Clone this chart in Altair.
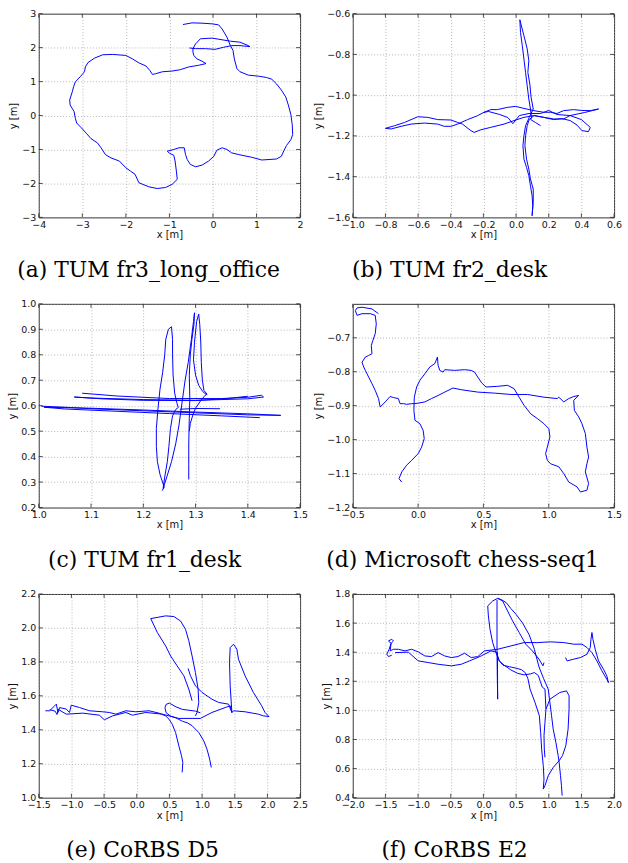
import altair as alt
import pandas as pd

W, H = 263, 205

# ---------------- panel (a) TUM fr3_long_office ----------------
a_segments = [[
    (-0.69, 2.68), (-0.48, 2.73), (-0.25, 2.72), (-0.02, 2.70), (0.13, 2.67), (0.21, 2.55), (0.32, 2.31),
    (0.40, 2.06), (0.46, 1.92), (0.49, 1.67), (0.55, 1.38), (0.62, 1.29), (0.81, 1.19), (1.04, 1.16),
    (1.23, 1.12), (1.35, 1.07), (1.46, 0.93), (1.57, 0.75), (1.67, 0.55), (1.73, 0.31), (1.79, 0.02),
    (1.82, -0.27), (1.83, -0.56), (1.79, -0.71), (1.69, -0.88), (1.63, -1.03), (1.57, -1.20), (1.46, -1.28),
    (1.12, -1.31), (0.89, -1.23), (0.59, -1.15), (0.43, -1.10), (0.32, -1.00), (0.21, -0.95), (0.09, -1.02),
    (0.02, -1.20), (-0.10, -1.34), (-0.25, -1.46), (-0.40, -1.51), (-0.52, -1.44), (-0.59, -1.30),
    (-0.63, -1.15), (-0.66, -0.95), (-0.78, -0.95), (-0.90, -1.00), (-1.05, -1.05), (-1.00, -1.11),
    (-0.90, -1.17), (-0.87, -1.34), (-0.84, -1.64), (-0.82, -1.88), (-0.94, -2.03), (-1.09, -2.12),
    (-1.28, -2.15), (-1.47, -2.10), (-1.70, -1.98), (-1.79, -1.73), (-1.89, -1.64), (-2.00, -1.54),
    (-2.15, -1.34), (-2.34, -1.25), (-2.47, -1.15), (-2.57, -0.95), (-2.65, -0.81), (-2.80, -0.68),
    (-2.91, -0.52), (-3.03, -0.35), (-3.13, -0.22), (-3.16, -0.08), (-3.19, 0.12), (-3.28, 0.31),
    (-3.29, 0.46), (-3.23, 0.70), (-3.20, 0.85), (-3.16, 0.99), (-3.05, 1.14), (-2.95, 1.29), (-2.93, 1.43),
    (-2.87, 1.56), (-2.72, 1.69), (-2.53, 1.79), (-2.30, 1.80), (-2.00, 1.77), (-1.85, 1.67), (-1.70, 1.55),
    (-1.54, 1.46), (-1.45, 1.33), (-1.39, 1.21), (-1.32, 1.23), (-1.16, 1.29), (-0.94, 1.31), (-0.75, 1.35),
    (-0.56, 1.43), (-0.33, 1.48), (-0.16, 1.53), (-0.25, 1.60), (-0.37, 1.67), (-0.44, 1.77), (-0.46, 1.87),
    (-0.46, 1.97), (-0.40, 2.11), (-0.29, 2.26), (-0.02, 2.28), (0.40, 2.19), (0.62, 2.16), (0.81, 2.06),
    (0.85, 2.03), (0.62, 2.06), (0.43, 2.06), (0.24, 2.01), (0.05, 1.95), (-0.17, 1.97), (-0.40, 1.97),
    (-0.54, 1.99),
]]
a_xticks = [-4, -3, -2, -1, 0, 1, 2]
a_yticks = [-3, -2, -1, 0, 1, 2, 3]

# ---------------- panel (b) TUM fr2_desk ----------------
b_segments = [
    [(0.15, -1.15), (0.12, -1.135), (0.09, -1.12), (0.094, -1.109), (0.088, -1.068), (0.078, -1.019),
     (0.068, -0.954), (0.058, -0.888), (0.048, -0.823), (0.038, -0.757), (0.027, -0.692), (0.023, -0.63),
     (0.048, -0.708), (0.068, -0.773), (0.078, -0.831), (0.072, -0.888), (0.084, -0.945), (0.092, -1.011),
     (0.105, -1.068), (0.08, -1.11), (0.058, -1.15), (0.048, -1.199), (0.042, -1.248), (0.048, -1.314),
     (0.064, -1.355), (0.078, -1.395), (0.088, -1.445), (0.098, -1.494), (0.102, -1.543), (0.098, -1.592),
     (0.105, -1.526), (0.105, -1.461), (0.088, -1.412), (0.078, -1.363), (0.064, -1.314), (0.054, -1.248),
     (0.058, -1.199), (0.068, -1.15), (0.08, -1.12)],
    [(0.08, -1.12), (0.11, -1.10), (0.17, -1.109), (0.231, -1.117), (0.291, -1.117), (0.33, -1.10),
     (0.373, -1.093), (0.42, -1.085), (0.47, -1.075), (0.505, -1.068), (0.454, -1.076), (0.40, -1.075),
     (0.352, -1.071), (0.291, -1.076), (0.25, -1.09), (0.21, -1.084), (0.17, -1.084), (0.109, -1.076),
     (0.048, -1.065), (-0.003, -1.055), (-0.054, -1.06), (-0.115, -1.071), (-0.155, -1.071), (-0.196, -1.084),
     (-0.237, -1.101), (-0.297, -1.12), (-0.358, -1.142), (-0.399, -1.153), (-0.44, -1.153), (-0.48, -1.142),
     (-0.561, -1.137), (-0.643, -1.142), (-0.704, -1.153), (-0.765, -1.166), (-0.80, -1.163), (-0.744, -1.150),
     (-0.683, -1.134), (-0.602, -1.106), (-0.541, -1.109), (-0.48, -1.12), (-0.399, -1.122), (-0.358, -1.134),
     (-0.328, -1.142), (-0.30, -1.16), (-0.277, -1.174), (-0.257, -1.183), (-0.216, -1.170), (-0.155, -1.158),
     (-0.074, -1.142), (-0.013, -1.125), (0.048, -1.109), (0.109, -1.10), (0.17, -1.109), (0.23, -1.12),
     (0.28, -1.115), (0.332, -1.125), (0.373, -1.147), (0.403, -1.174), (0.443, -1.179), (0.454, -1.158),
     (0.40, -1.12), (0.33, -1.10), (0.25, -1.095), (0.20, -1.075), (0.15, -1.09), (0.08, -1.09),
     (0.02, -1.10), (-0.02, -1.14), (-0.05, -1.11), (-0.10, -1.095), (-0.17, -1.08), (-0.20, -1.085)],
]
b_xticks = [-1.0, -0.8, -0.6, -0.4, -0.2, 0.0, 0.2, 0.4, 0.6]
b_yticks = [-1.6, -1.4, -1.2, -1.0, -0.8, -0.6]

# ---------------- panel (c) TUM fr1_desk ----------------
c_segments = [
    [(1.083, 0.649), (1.15, 0.638), (1.25, 0.628), (1.35, 0.628), (1.40, 0.633), (1.426, 0.641), (1.43, 0.634),
     (1.40, 0.627), (1.30, 0.621), (1.20, 0.624), (1.10, 0.63), (1.068, 0.634), (1.12, 0.627), (1.20, 0.621),
     (1.30, 0.62), (1.36, 0.628), (1.40, 0.637)],
    [(1.005, 0.598), (1.05, 0.594), (1.10, 0.588), (1.20, 0.580), (1.30, 0.572), (1.40, 0.564), (1.463, 0.562),
     (1.40, 0.568), (1.30, 0.575), (1.20, 0.583), (1.10, 0.590), (1.01, 0.594), (1.05, 0.587), (1.15, 0.578),
     (1.25, 0.569), (1.35, 0.560), (1.423, 0.553)],
    [(1.27, 0.586), (1.30, 0.589), (1.347, 0.588)],
    [(1.236, 0.266), (1.240, 0.28), (1.232, 0.33), (1.227, 0.38), (1.225, 0.44), (1.225, 0.51), (1.228, 0.586),
     (1.232, 0.665), (1.237, 0.73), (1.241, 0.80), (1.243, 0.86), (1.248, 0.90), (1.254, 0.91), (1.256, 0.86),
     (1.256, 0.80), (1.257, 0.72), (1.26, 0.65), (1.264, 0.612), (1.267, 0.593), (1.262, 0.585), (1.256, 0.56),
     (1.252, 0.51), (1.249, 0.44), (1.246, 0.38), (1.241, 0.32), (1.238, 0.275), (1.245, 0.32), (1.254, 0.38),
     (1.262, 0.45), (1.268, 0.52), (1.274, 0.61), (1.28, 0.70), (1.286, 0.77), (1.292, 0.86), (1.296, 0.93),
     (1.298, 0.965), (1.297, 0.92), (1.293, 0.86), (1.290, 0.80), (1.288, 0.72), (1.289, 0.63), (1.288, 0.55),
     (1.287, 0.45), (1.287, 0.37), (1.287, 0.31)],
    [(1.288, 0.50), (1.29, 0.53), (1.295, 0.565), (1.30, 0.59), (1.31, 0.62), (1.318, 0.64), (1.322, 0.645),
     (1.316, 0.66), (1.313, 0.70), (1.311, 0.77), (1.31, 0.85), (1.308, 0.92), (1.306, 0.96), (1.302, 0.93),
     (1.298, 0.85), (1.296, 0.78), (1.30, 0.72), (1.306, 0.68), (1.314, 0.655), (1.32, 0.645)],
]
c_xticks = [1.0, 1.1, 1.2, 1.3, 1.4, 1.5]
c_yticks = [0.2, 0.3, 0.4, 0.5, 0.6, 0.7, 0.8, 0.9, 1.0]

# ---------------- panel (d) Microsoft chess-seq1 ----------------
d_segments = [[
    (-0.303, -0.629), (-0.353, -0.615), (-0.429, -0.610), (-0.467, -0.612), (-0.480, -0.620), (-0.467, -0.634),
    (-0.429, -0.629), (-0.366, -0.629), (-0.328, -0.634), (-0.320, -0.659), (-0.328, -0.688), (-0.346, -0.708),
    (-0.358, -0.723), (-0.353, -0.747), (-0.378, -0.752), (-0.404, -0.757), (-0.429, -0.772), (-0.416, -0.786),
    (-0.404, -0.796), (-0.378, -0.816), (-0.353, -0.835), (-0.328, -0.855), (-0.303, -0.879), (-0.290, -0.904),
    (-0.252, -0.889), (-0.214, -0.873), (-0.189, -0.876), (-0.151, -0.879), (-0.138, -0.894), (-0.113, -0.894),
    (-0.087, -0.896), (-0.049, -0.894), (-0.024, -0.894), (0.052, -0.889), (0.103, -0.879), (0.153, -0.870),
    (0.204, -0.860), (0.267, -0.848), (0.330, -0.853), (0.457, -0.860), (0.584, -0.863), (0.710, -0.867),
    (0.837, -0.867), (0.963, -0.875), (1.065, -0.879), (1.077, -0.875), (1.115, -0.889), (1.153, -0.879),
    (1.191, -0.873), (1.229, -0.870), (1.191, -0.884), (1.196, -0.914), (1.229, -0.933), (1.254, -0.953),
    (1.280, -0.982), (1.292, -1.022), (1.305, -1.051), (1.292, -1.071), (1.280, -1.095), (1.305, -1.129),
    (1.292, -1.149), (1.242, -1.154), (1.216, -1.139), (1.153, -1.125), (1.115, -1.100), (1.077, -1.080),
    (1.014, -1.071), (0.989, -1.061), (0.976, -1.041), (0.989, -1.022), (1.009, -0.992), (1.001, -0.968),
    (0.963, -0.953), (0.913, -0.938), (0.862, -0.924), (0.811, -0.899), (0.773, -0.875), (0.735, -0.850),
    (0.685, -0.840), (0.609, -0.843), (0.520, -0.845), (0.487, -0.833), (0.457, -0.816), (0.432, -0.801),
    (0.406, -0.796), (0.356, -0.794), (0.280, -0.796), (0.204, -0.794), (0.191, -0.801), (0.166, -0.796),
    (0.153, -0.781), (0.148, -0.757), (0.128, -0.776), (0.090, -0.786), (0.052, -0.806), (0.014, -0.825),
    (-0.011, -0.845), (-0.029, -0.875), (-0.032, -0.914), (-0.024, -0.943), (0.014, -0.953), (0.039, -0.973),
    (0.047, -0.997), (0.027, -1.022), (0.001, -1.041), (-0.049, -1.061), (-0.087, -1.075), (-0.125, -1.095),
    (-0.146, -1.115), (-0.125, -1.125),
]]
d_xticks = [-0.5, 0.0, 0.5, 1.0, 1.5]
d_yticks = [-1.2, -1.1, -1.0, -0.9, -0.8, -0.7]

# ---------------- panel (e) CoRBS D5 ----------------
e_segments = [
    [(-1.399, 1.512), (-1.333, 1.512), (-1.257, 1.541), (-1.231, 1.551), (-1.206, 1.502), (-1.181, 1.531),
     (-1.079, 1.522), (-1.029, 1.502), (-1.003, 1.545), (-0.876, 1.531), (-0.724, 1.512), (-0.522, 1.506),
     (-0.420, 1.502), (-0.319, 1.492), (-0.167, 1.512), (-0.015, 1.506), (0.188, 1.512), (0.340, 1.498),
     (0.442, 1.482), (0.492, 1.463), (0.543, 1.433), (0.594, 1.384), (0.644, 1.306), (0.685, 1.247),
     (0.705, 1.208), (0.695, 1.149)],
    [(-1.333, 1.518), (-1.25, 1.51), (-1.22, 1.49), (-1.2, 1.52), (-1.079, 1.492), (-0.826, 1.498),
     (-0.572, 1.486), (-0.496, 1.459), (-0.369, 1.482), (-0.167, 1.502), (-0.065, 1.486), (0.138, 1.502),
     (0.391, 1.492), (0.644, 1.467), (0.847, 1.467), (0.974, 1.467), (1.151, 1.502), (1.354, 1.531),
     (1.430, 1.541), (1.456, 1.502), (1.481, 1.512), (1.658, 1.506), (1.861, 1.492), (1.937, 1.482),
     (2.024, 1.478), (1.963, 1.502), (1.912, 1.541), (1.785, 1.620), (1.658, 1.718), (1.557, 1.816),
     (1.532, 1.875), (1.481, 1.904), (1.430, 1.884), (1.420, 1.796), (1.430, 1.659), (1.456, 1.502),
     (1.405, 1.551), (1.253, 1.561), (1.151, 1.580), (0.999, 1.620), (0.898, 1.659), (0.822, 1.718),
     (0.786, 1.761)],
    [(0.898, 1.482), (0.923, 1.502), (0.949, 1.561), (0.939, 1.639), (0.898, 1.737), (0.847, 1.835),
     (0.797, 1.924), (0.746, 1.992), (0.670, 2.041), (0.568, 2.067), (0.442, 2.071), (0.214, 2.055),
     (0.315, 1.973), (0.442, 1.894), (0.518, 1.835), (0.619, 1.776), (0.721, 1.718), (0.797, 1.639),
     (0.847, 1.571)],
    [(0.974, 1.50), (0.9, 1.51), (0.8, 1.515), (0.70, 1.52), (0.60, 1.535), (0.50, 1.557), (0.45, 1.55),
     (0.432, 1.53), (0.45, 1.50), (0.52, 1.48), (0.60, 1.47), (0.70, 1.45), (0.78, 1.44), (0.847, 1.424),
     (0.949, 1.384), (1.025, 1.335), (1.075, 1.286), (1.116, 1.227), (1.141, 1.178)],
]
e_xticks = [-1.5, -1.0, -0.5, 0.0, 0.5, 1.0, 1.5, 2.0, 2.5]
e_yticks = [1.0, 1.2, 1.4, 1.6, 1.8, 2.0, 2.2]

# ---------------- panel (f) CoRBS E2 ----------------
f_segments = [
    [(-1.403, 1.379), (-1.453, 1.370), (-1.478, 1.386), (-1.443, 1.420), (-1.413, 1.461), (-1.453, 1.477),
     (-1.403, 1.489), (-1.377, 1.477), (-1.413, 1.461), (-1.428, 1.409), (-1.377, 1.420), (-1.301, 1.420),
     (-1.2, 1.409), (-1.099, 1.420), (-0.997, 1.402), (-0.896, 1.374), (-0.795, 1.370), (-0.694, 1.397),
     (-0.592, 1.374), (-0.491, 1.363), (-0.390, 1.370), (-0.289, 1.393), (-0.187, 1.363), (-0.086, 1.370),
     (0.015, 1.409), (0.218, 1.420), (0.420, 1.443), (0.623, 1.466), (0.825, 1.466), (1.028, 1.471),
     (1.230, 1.466), (1.382, 1.455), (1.509, 1.455), (1.585, 1.432), (1.661, 1.397), (1.737, 1.340),
     (1.813, 1.272), (1.889, 1.214), (1.914, 1.191), (1.889, 1.237), (1.838, 1.283), (1.762, 1.340),
     (1.711, 1.420), (1.676, 1.489), (1.661, 1.535), (1.646, 1.489), (1.635, 1.432), (1.585, 1.386),
     (1.484, 1.363), (1.382, 1.352), (1.281, 1.340), (1.256, 1.363)],
    [(-1.352, 1.397), (-1.15, 1.40), (-0.997, 1.340), (-0.846, 1.329), (-0.694, 1.317), (-0.491, 1.306),
     (-0.339, 1.317), (-0.187, 1.345), (-0.035, 1.374), (0.116, 1.409), (0.2, 1.40), (0.243, 1.340),
     (0.319, 1.310), (0.420, 1.278), (0.522, 1.255), (0.623, 1.244), (0.724, 1.251), (0.78, 1.26),
     (0.84, 1.24), (0.87, 1.20), (0.90, 1.16), (0.942, 1.146), (0.957, 1.008), (0.942, 0.917),
     (0.927, 0.825), (0.932, 0.734), (0.942, 0.677)],
    [(0.927, 1.329), (0.911, 1.306), (0.851, 1.352), (0.749, 1.409), (0.648, 1.455), (0.547, 1.535),
     (0.446, 1.615), (0.370, 1.683), (0.294, 1.752), (0.218, 1.770), (0.142, 1.752), (0.066, 1.718),
     (0.076, 1.649), (0.101, 1.557), (0.142, 1.466), (0.192, 1.397), (0.243, 1.340), (0.30, 1.31),
     (0.40, 1.30), (0.50, 1.29), (0.58, 1.28), (0.64, 1.26), (0.68, 1.22), (0.714, 1.146), (0.790, 1.054),
     (0.856, 0.963), (0.876, 0.848), (0.891, 0.734), (0.916, 0.620), (0.927, 0.528), (0.916, 0.459),
     (0.942, 0.482), (0.992, 0.551), (1.068, 0.608), (1.159, 0.654), (1.210, 0.689), (1.261, 0.757),
     (1.296, 0.871), (1.311, 1.008), (1.311, 1.100), (1.271, 1.134), (1.170, 1.123), (1.018, 1.077),
     (0.957, 1.008)],
    [(0.208, 1.76), (0.208, 1.60), (0.208, 1.443), (0.212, 1.25), (0.218, 1.077), (0.216, 1.25), (0.214, 1.40)],
    [(0.22, 1.77), (0.28, 1.76), (0.35, 1.74), (0.42, 1.70), (0.50, 1.66), (0.60, 1.60), (0.70, 1.52),
     (0.78, 1.42), (0.85, 1.30), (0.92, 1.22), (0.992, 1.146), (1.018, 1.054), (1.043, 0.963), (1.068, 0.871),
     (1.109, 0.780), (1.144, 0.689), (1.159, 0.643), (1.180, 0.551), (1.195, 0.482), (1.205, 0.414)],
]
f_xticks = [-2.0, -1.5, -1.0, -0.5, 0.0, 0.5, 1.0, 1.5, 2.0]
f_yticks = [0.4, 0.6, 0.8, 1.0, 1.2, 1.4, 1.6, 1.8]

captions = ["(a) TUM fr3_long_office", "(b) TUM fr2_desk", "(c) TUM fr1_desk",
            "(d) Microsoft chess-seq1", "(e) CoRBS D5", "(f) CoRBS E2"]

MINUS = "replace(datum.label, '-', '\u2212')"
TICK = 4


def make_df(segs):
    rows = []
    for s, seg in enumerate(segs):
        for i, (x, y) in enumerate(seg):
            rows.append({"x": x, "y": y, "seg": s, "i": i})
    return pd.DataFrame(rows)


def axis(values, fmt, title, x):
    return alt.Axis(values=values, format=fmt, title=title, labelExpr=MINUS,
                    labelOverlap=False, labelFlush=False, labelBound=False,
                    labelPadding=2 if x else 3, titlePadding=1 if x else 3,
                    grid=True, gridColor="#999", gridDash=[1, 2], gridWidth=0.7,
                    domain=False, ticks=False)


def panel(segs, xdom, ydom, xticks, yticks, xfmt, yfmt, caption, dx):
    df = make_df(segs)
    xs = alt.Scale(domain=xdom, nice=False, zero=False)
    ys = alt.Scale(domain=ydom, nice=False, zero=False)
    xax = axis(xticks, xfmt, "x [m]", True)
    yax = axis(yticks, yfmt, "y [m]", False)
    line = alt.Chart(df).mark_line(color="#0000ff", strokeWidth=1, clip=True).encode(
        x=alt.X("x:Q", scale=xs, axis=xax),
        y=alt.Y("y:Q", scale=ys, axis=yax),
        detail="seg:N",
        order=alt.Order("i:Q"),
    )
    xt = pd.DataFrame({"x": xticks})
    yt = pd.DataFrame({"y": yticks})
    tick_style = dict(color="#222", strokeWidth=0.8)
    xb = alt.Chart(xt).mark_rule(**tick_style).encode(
        x=alt.X("x:Q", scale=xs, axis=xax), y=alt.value(H), y2=alt.value(H - TICK))
    xtp = alt.Chart(xt).mark_rule(**tick_style).encode(
        x=alt.X("x:Q", scale=xs, axis=xax), y=alt.value(0), y2=alt.value(TICK))
    yl = alt.Chart(yt).mark_rule(**tick_style).encode(
        y=alt.Y("y:Q", scale=ys, axis=yax), x=alt.value(0), x2=alt.value(TICK))
    yr = alt.Chart(yt).mark_rule(**tick_style).encode(
        y=alt.Y("y:Q", scale=ys, axis=yax), x=alt.value(W), x2=alt.value(W - TICK))
    return alt.layer(line, xb, xtp, yl, yr).properties(
        width=W, height=H,
        title=alt.TitleParams(caption, orient="bottom", anchor="middle", frame="group", dx=dx, offset=20,
                              font="DejaVu Serif", fontSize=22, fontWeight="normal", color="black"),
    )


pa = panel(a_segments, [-4, 2], [-3, 3], a_xticks, a_yticks, "d", "d", captions[0], -21)
pb = panel(b_segments, [-1.0, 0.6], [-1.6, -0.6], b_xticks, b_yticks, ".1f", ".1f", captions[1], -34)
pc = panel(c_segments, [1.0, 1.5], [0.2, 1.0], c_xticks, c_yticks, ".1f", ".1f", captions[2], -25)
pd_ = panel(d_segments, [-0.5, 1.5], [-1.2, -0.6], d_xticks, d_yticks, ".1f", ".1f", captions[3], -21)
pe = panel(e_segments, [-1.5, 2.5], [1.0, 2.2], e_xticks, e_yticks, ".1f", ".1f", captions[4], -27)
pf = panel(f_segments, [-2.0, 2.0], [0.4, 1.8], f_xticks, f_yticks, ".1f", ".1f", captions[5], -29)

chart = alt.concat(pa, pb, pc, pd_, pe, pf, columns=2, spacing=alt.RowColnumber(row=87, column=53),
                   bounds="flush").properties(
    padding={"left": 7, "top": 5, "right": 5, "bottom": 5},
    background="white",
).configure_axis(
    labelFont="DejaVu Sans", labelFontSize=9.5, labelColor="#111",
    titleFont="DejaVu Sans", titleFontSize=10, titleFontWeight="normal", titleColor="#111",
).configure_view(stroke="#333", strokeWidth=1)

chart.save("out.html", embed_options={"renderer": "svg", "actions": False})
